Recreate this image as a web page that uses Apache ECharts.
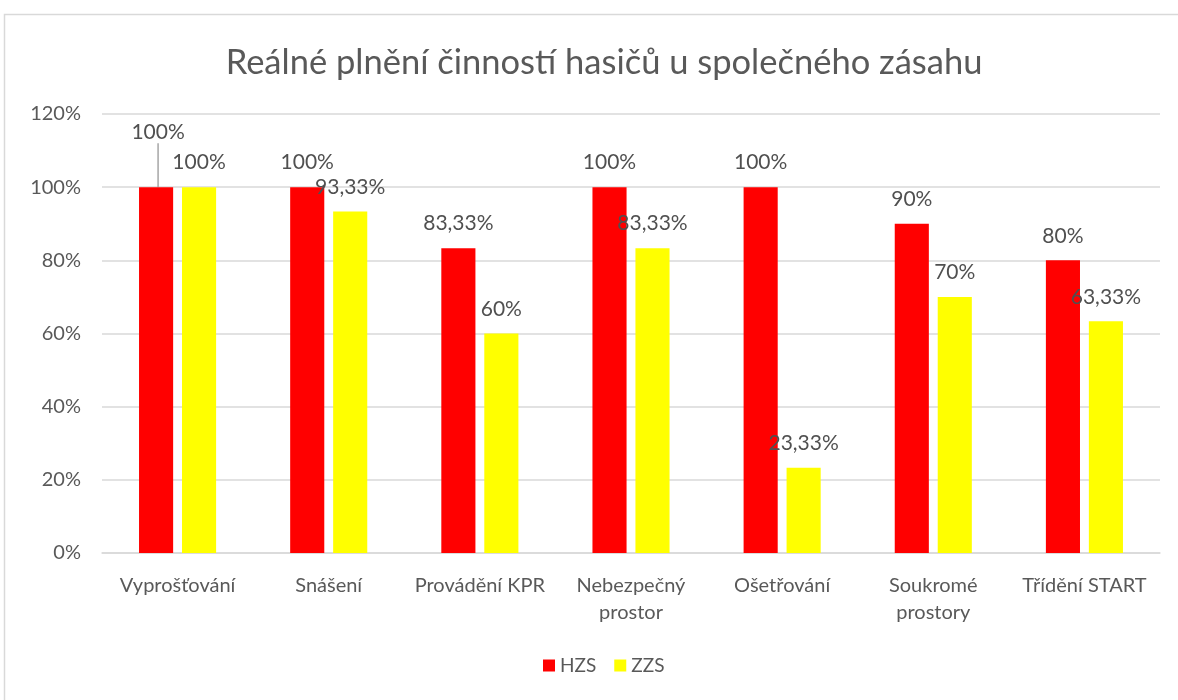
<!DOCTYPE html>
<html>
<head>
<meta charset="utf-8">
<script src="https://cdn.jsdelivr.net/npm/echarts@6/dist/echarts.min.js"></script>
<style>
  html, body { margin: 0; padding: 0; background: #fff; }
  #main { width: 1178px; height: 700px; }
</style>
</head>
<body>
<div id="main"></div>
<script>
const categories = ['Vyprošťování', 'Snášení', 'Provádění KPR', 'Nebezpečný\nprostor', 'Ošetřování', 'Soukromé\nprostory', 'Třídění START'];
const hzsValues = [100, 100, 83.33, 100, 100, 90, 80];
const zzsValues = [100, 93.33, 60, 83.33, 23.33, 70, 63.33];
const yTicks = [0, 20, 40, 60, 80, 100, 120];

const font = 'Lato, "Liberation Sans", sans-serif';

function pct(v) {
  return String(v).replace('.', ',') + '%';
}

let myChart = echarts.init(document.getElementById('main'));

let option = {
  backgroundColor: '#fff',
  animation: false,
  textStyle: { fontFamily: font },
  graphic: [{
    type: 'rect',
    shape: { x: 4.5, y: 14.5, width: 1200, height: 720 },
    style: { fill: 'none', stroke: '#d9d9d9', lineWidth: 1.5 },
    silent: true
  }],
  title: {
    text: 'Reálné plnění činností hasičů u společného zásahu',
    left: 599,
    top: 40,
    textAlign: 'center',
    textStyle: { fontFamily: font, fontSize: 34.5, fontWeight: 'normal', color: '#595959' }
  },
  legend: {
    data: ['HZS', 'ZZS'],
    bottom: 20,
    left: 538,
    itemWidth: 12,
    itemHeight: 12,
    itemGap: 18,
    icon: 'rect',
    textStyle: { fontFamily: font, fontSize: 19, color: '#595959' }
  },
  grid: {
    left: 102,
    right: 18,
    top: 114,
    bottom: 147,
    containLabel: false
  },
  xAxis: {
    type: 'category',
    data: categories,
    axisLine: { lineStyle: { color: '#d9d9d9', width: 1.5 } },
    axisTick: { show: false },
    axisLabel: {
      fontFamily: font,
      fontSize: 20,
      color: '#595959',
      margin: 19,
      lineHeight: 27,
      interval: 0
    }
  },
  yAxis: {
    type: 'value',
    min: yTicks[0],
    max: yTicks[yTicks.length - 1],
    interval: 20,
    axisLine: { show: false },
    axisTick: { show: false },
    splitLine: { lineStyle: { color: '#d9d9d9', width: 1.5 } },
    axisLabel: {
      fontFamily: font,
      fontSize: 20,
      color: '#595959',
      margin: 21,
      formatter: (v) => v + '%'
    }
  },
  series: [
    {
      name: 'HZS',
      type: 'bar',
      data: hzsValues.map((v, i) => i === 0 ? { value: v, labelLine: { show: true } } : v),
      itemStyle: { color: '#ff0000' },
      barGap: '26%',
      barCategoryGap: '49%',
      label: {
        show: true,
        position: 'top',
        distance: 14,
        fontFamily: font,
        fontSize: 21,
        color: '#505050',
        formatter: (p) => pct(p.value)
      },
      labelLine: {
        lineStyle: { color: '#a6a6a6', width: 1.5 }
      },
      labelLayout: (p) => p.dataIndex === 0 ? { dx: 2, dy: -30 } : {}
    },
    {
      name: 'ZZS',
      type: 'bar',
      data: zzsValues,
      itemStyle: { color: '#ffff00' },
      barGap: '26%',
      barCategoryGap: '49%',
      label: {
        show: true,
        position: 'top',
        distance: 14,
        fontFamily: font,
        fontSize: 21,
        color: '#505050',
        formatter: (p) => pct(p.value)
      }
    }
  ]
};

myChart.setOption(option);
</script>
</body>
</html>
